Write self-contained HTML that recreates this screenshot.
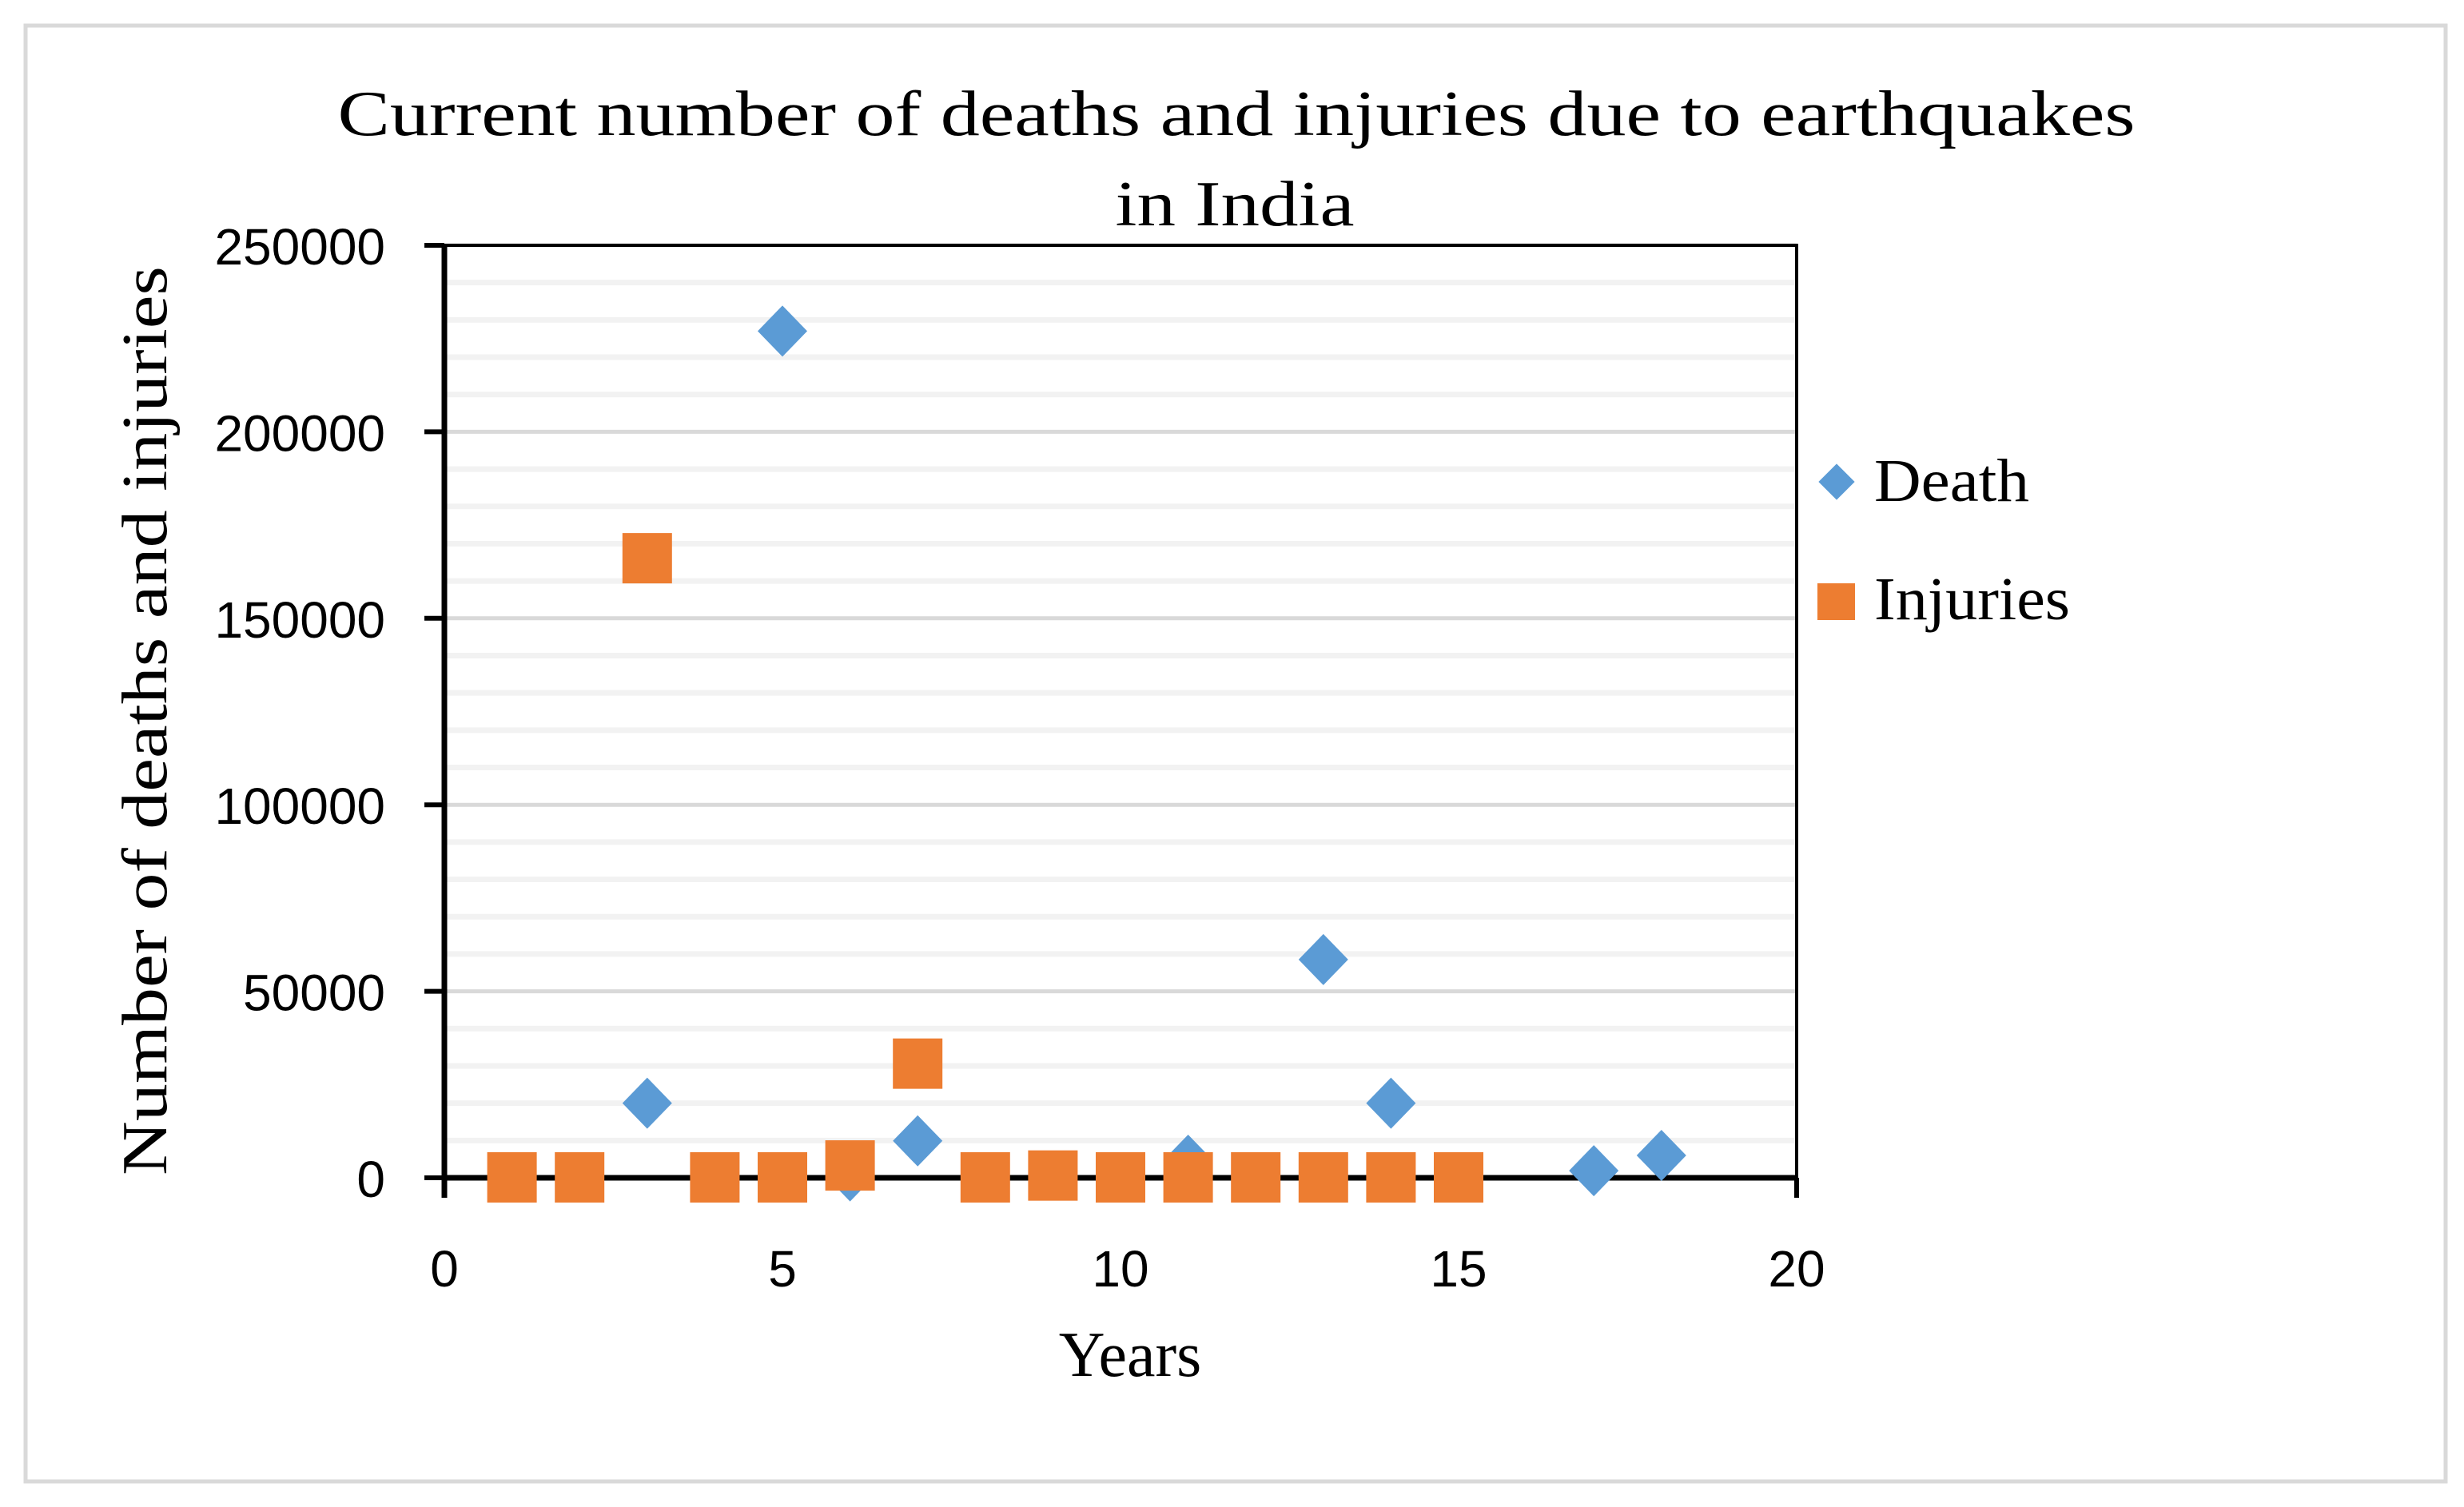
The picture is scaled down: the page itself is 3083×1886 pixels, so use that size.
<!DOCTYPE html>
<html><head><meta charset="utf-8"><style>html,body{margin:0;padding:0;background:#fff}svg{display:block}</style></head>
<body>
<svg id="chart" width="3083" height="1886" viewBox="0 0 3083 1886" xmlns="http://www.w3.org/2000/svg">
<rect x="32" y="32" width="3028" height="1822" fill="#fff" stroke="#d9d9d9" stroke-width="5"/>
<g id="grid"></g>
<g id="axes"></g>
<g id="marks"></g>
<text x="1547" y="169" text-anchor="middle" font-family="Liberation Serif, serif" font-size="80" textLength="2249" lengthAdjust="spacingAndGlyphs">Current number of deaths and injuries due to earthquakes</text>
<text x="1545" y="282" text-anchor="middle" font-family="Liberation Serif, serif" font-size="80" textLength="299" lengthAdjust="spacingAndGlyphs">in India</text>
<text transform="translate(208,902) rotate(-90)" text-anchor="middle" font-family="Liberation Serif, serif" font-size="80" textLength="1138" lengthAdjust="spacingAndGlyphs">Number of deaths and injuries</text>
<text x="1414" y="1722" text-anchor="middle" font-family="Liberation Serif, serif" font-size="80">Years</text>
<g>
<g>
<rect x="2282" y="587" width="32" height="32" fill="#5b9bd5" transform="rotate(45 2298 603)"/>
<text x="2345" y="627" font-family="Liberation Serif, serif" font-size="76" textLength="194" lengthAdjust="spacingAndGlyphs">Death</text>
</g>
<g>
<rect x="2274" y="730" width="47" height="46" fill="#ed7d31"/>
<text x="2345" y="775" font-family="Liberation Serif, serif" font-size="76" textLength="245" lengthAdjust="spacingAndGlyphs">Injuries</text>
</g>
</g>
</svg>
<script>
const yTicks = [0, 50000, 100000, 150000, 200000, 250000];
const xTicks = [0, 5, 10, 15, 20];
const deathX = [3, 5, 6, 7, 11, 13, 14, 17, 18];
const deathY = [20000, 227000, 500, 9900, 4700, 58500, 20000, 1900, 6000];
const injX = [1, 2, 3, 4, 5, 6, 7, 8, 9, 10, 11, 12, 13, 14, 15];
const injY = [0, 0, 166000, 0, 0, 3200, 30500, 0, 500, 0, 0, 0, 0, 0, 0];

const NS = 'http://www.w3.org/2000/svg';
const L = 556, R = 2248, T = 307, B = 1474;
const xs = v => L + (v - 0) / 20 * (R - L);
const ys = v => B - v / 250000 * (B - T);
function mk(tag, attrs, parent) {
  const e = document.createElementNS(NS, tag);
  for (const k in attrs) e.setAttribute(k, attrs[k]);
  parent.appendChild(e);
  return e;
}
const grid = document.getElementById('grid');
for (let v = 10000; v <= 250000; v += 10000) {
  const major = v % 50000 === 0;
  const g = mk('line', {x1: L, x2: R, y1: ys(v), y2: ys(v), stroke: major ? '#d9d9d9' : '#f2f2f2', 'stroke-width': major ? 5 : 7}, grid);
  
  
}
const axes = document.getElementById('axes');
const frame = mk('rect', {x: L, y: T, width: R - L, height: B - T, fill: 'none', stroke: '#000', 'stroke-width': 4}, axes);


const xa = mk('line', {x1: L, x2: R, y1: B, y2: B, stroke: '#000', 'stroke-width': 7}, axes);


const ya = mk('line', {x1: L, x2: L, y1: T, y2: B + 25, stroke: '#000', 'stroke-width': 7}, axes);


yTicks.forEach(v => {
  const t = mk('line', {x1: L - 25, x2: L, y1: ys(v), y2: ys(v), stroke: '#000', 'stroke-width': 6}, axes);
  
  
  const lab = mk('text', {x: 482, y: ys(v) + 24, 'text-anchor': 'end', 'font-family': 'Liberation Sans, sans-serif', 'font-size': 64}, axes);
  lab.textContent = String(v);
  
  
});
xTicks.forEach(v => {
  const t = mk('line', {x1: xs(v), x2: xs(v), y1: B, y2: B + 25, stroke: '#000', 'stroke-width': 6}, axes);
  
  
  const lab = mk('text', {x: xs(v), y: 1610, 'text-anchor': 'middle', 'font-family': 'Liberation Sans, sans-serif', 'font-size': 64}, axes);
  lab.textContent = String(v);
  
  
});
const marks = document.getElementById('marks');
deathX.forEach((x, i) => {
  const cx = xs(x), cy = ys(deathY[i]);
  const p = mk('polygon', {points: `${cx},${cy-32} ${cx+31},${cy} ${cx},${cy+32} ${cx-31},${cy}`, fill: '#5b9bd5'}, marks);
  
  
});
injX.forEach((x, i) => {
  const cx = xs(x), cy = ys(injY[i]);
  const r = mk('rect', {x: cx - 31, y: cy - 32, width: 62, height: 63, fill: '#ed7d31'}, marks);
  
  
});
</script>
</body></html>
